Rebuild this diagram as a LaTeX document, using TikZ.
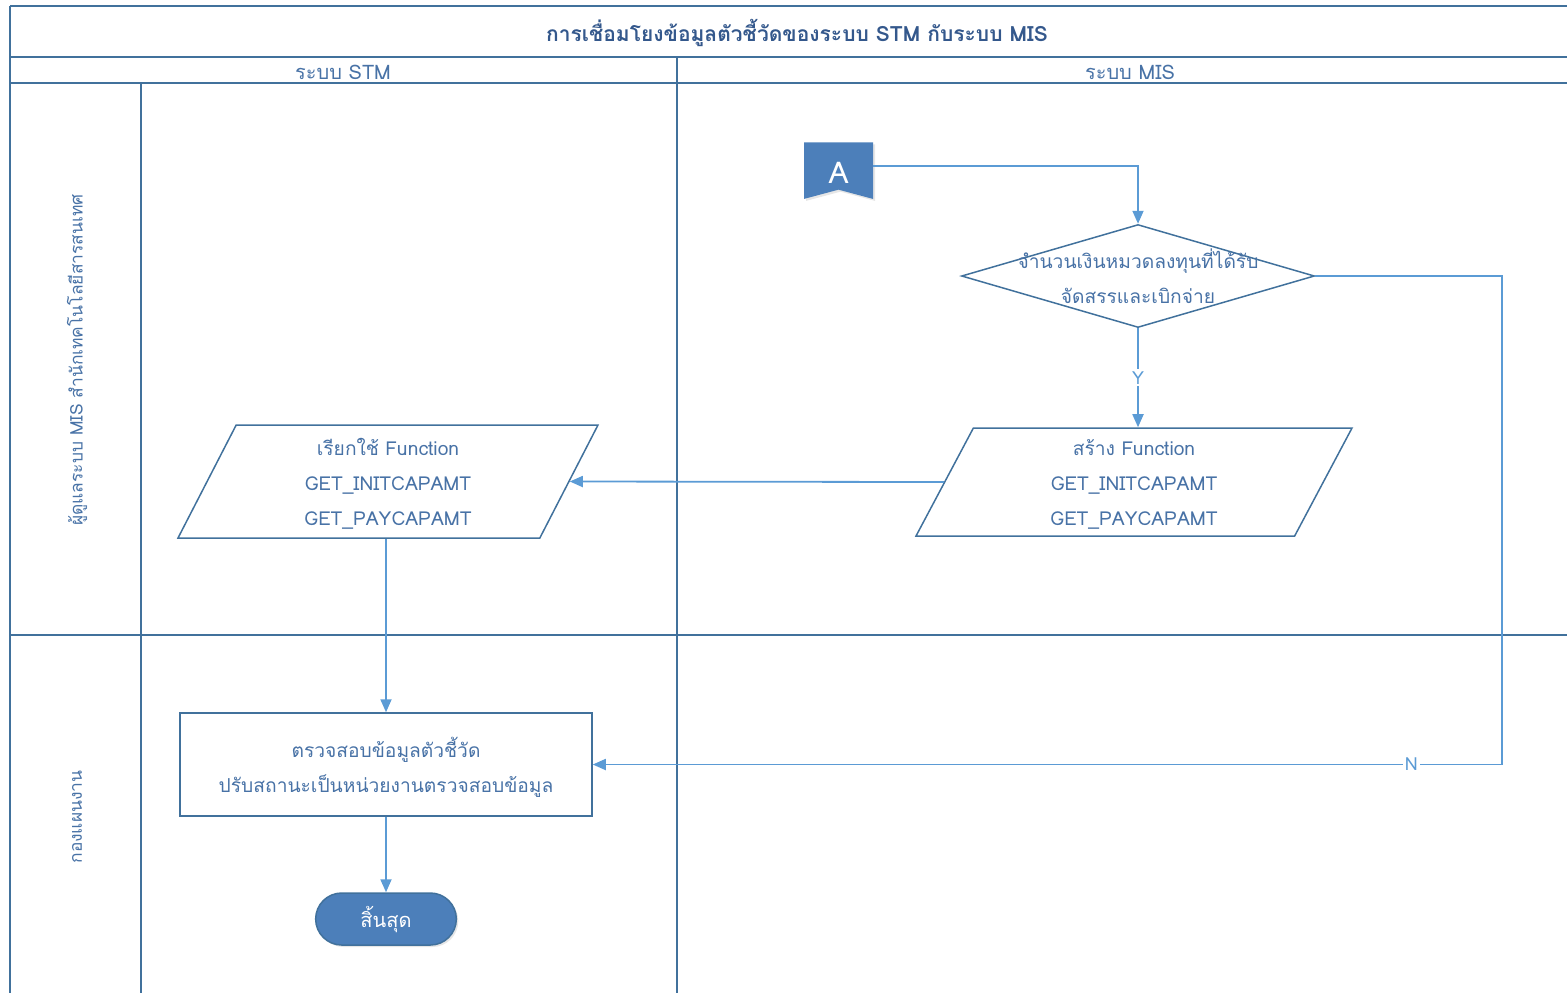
\documentclass[tikz,border=0pt]{standalone}
\usepackage{fontspec}
\setmainfont[Script=Thai]{Loma}
\usetikzlibrary{shapes.geometric,shapes.misc,shapes.symbols,arrows.meta,shadows}

\definecolor{frameblue}{RGB}{65,113,156}
\definecolor{linkblue}{RGB}{91,155,213}
\definecolor{fillblue}{RGB}{76,127,186}
\definecolor{textblue}{RGB}{72,114,166}
\definecolor{titleblue}{RGB}{52,88,140}

\tikzset{
  frame/.style={draw=frameblue, line width=0.8pt},
  conn/.style={draw=linkblue, line width=0.9pt, -{Triangle[length=6.5pt,width=5.5pt]}},
  shapebox/.style={draw=frameblue, line width=0.75pt, text=textblue, align=center,
    font=\fontsize{9.6}{17.5}\selectfont},
  iobox/.style={shapebox, trapezium, trapezium left angle=56.3, trapezium right angle=123.7,
    trapezium stretches body, inner sep=0pt, text depth=-1.5pt},
  lbl/.style={fill=white, text=linkblue, font=\fontsize{9}{10}\selectfont, inner sep=1pt},
  lane/.style={text=textblue, font=\fontsize{8.7}{10}\selectfont, rotate=90},
  head/.style={text=textblue, font=\fontsize{10}{11}\selectfont}
}

\begin{document}
\begin{tikzpicture}[x=0.5pt, y=-0.5pt]

\useasboundingbox (0,0) rectangle (1567,992);

\draw[frame] (10,6) -- (1583,6) (10,57) -- (1583,57) (10,83) -- (1583,83) (10,635) -- (1583,635);
\draw[frame] (10,6) -- (10,1000) (141,83) -- (141,1000) (677,57) -- (677,1000);

\node[font=\bfseries\fontsize{10.5}{12}\selectfont, text=titleblue] (ttl) at (797,33)
  {การเชื่อมโยงข้อมูลตัวชี้วัดของระบบ STM กับระบบ MIS};
\node[head] (hstm) at (343,72) {ระบบ STM};
\node[head] (hmis) at (1130,72) {ระบบ MIS};
\node[lane] (lit) at (77,360) {ผู้ดูแลระบบ MIS สำนักเทคโนโลยีสารสนเทศ};
\node[lane] (lplan) at (77,817) {กองแผนงาน};

\node[signal, signal from=south, signal to=nowhere, signal pointer angle=150,
  fill=fillblue, text=white, minimum width=34.5pt, minimum height=25pt, inner sep=0pt,
  text height=17pt, text depth=0pt, font=\fontsize{15}{16}\selectfont,
  drop shadow={opacity=0.2, shadow xshift=1pt, shadow yshift=-1pt}]
  (A) at (838.5,166) {A};

\node[shapebox, diamond, minimum width=176.5pt, minimum height=51.5pt, inner sep=0pt] (d) at (1138,276) {};
\node[text=textblue, align=center, font=\fontsize{9.6}{17.5}\selectfont] (dtxt) at (1138,276)
  {จำนวนเงินหมวดลงทุนที่ได้รับ\\จัดสรรและเบิกจ่าย};

\node[iobox, minimum width=218pt, minimum height=54pt] (mk) at (1134,482)
  {สร้าง Function\\GET\_INITCAPAMT\\GET\_PAYCAPAMT};
\node[iobox, minimum width=210pt, minimum height=56.5pt] (use) at (388,481.5)
  {เรียกใช้ Function\\GET\_INITCAPAMT\\GET\_PAYCAPAMT};

\node[shapebox, rectangle, minimum width=206pt, minimum height=51.5pt, text depth=-0.5pt] (chk) at (386,764.5)
  {ตรวจสอบข้อมูลตัวชี้วัด\\ปรับสถานะเป็นหน่วยงานตรวจสอบข้อมูล};

\node[rounded rectangle, draw=frameblue, line width=0.75pt, fill=fillblue, text=white,
  minimum width=77pt, minimum height=26pt, font=\fontsize{10}{12}\selectfont,
  drop shadow={opacity=0.2, shadow xshift=1pt, shadow yshift=-1pt}]
  (stop) at (386,919) {สิ้นสุด};

\draw[conn] (A.east) -| (d.north);
\draw[conn] (d.south) -- node[lbl] {Y} (d.south |- mk.north);
\draw[conn] (d.east) -- ++(187,0) |- node[lbl, pos=0.55] {N} (chk.east);
\draw[conn] (mk.west) -- (use.east);
\draw[conn] (chk.north |- use.south) -- (chk.north);
\draw[conn] (chk.south) -- (stop.north);

\end{tikzpicture}
\end{document}
